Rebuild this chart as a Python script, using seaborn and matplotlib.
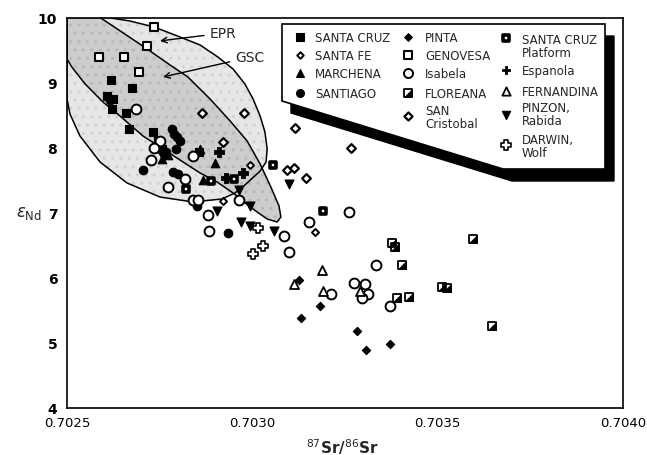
import matplotlib
matplotlib.use("Agg")
import matplotlib.pyplot as plt
from matplotlib.patches import Polygon
from matplotlib.ticker import MultipleLocator
import numpy as np
import pandas as pd
import seaborn as sns

# ---------------- data (87Sr/86Sr, epsilon Nd) ----------------
santa_cruz_sr = [0.702619, 0.702675, 0.702608, 0.702624, 0.702621, 0.702659, 0.702667, 0.702732, 0.702756, 0.702856, 0.702745]
santa_cruz_nd = [9.038, 8.915, 8.792, 8.746, 8.592, 8.531, 8.285, 8.238, 7.977, 7.931, 8.100]

santa_fe_sr = [0.702994, 0.703169, 0.702921]
santa_fe_nd = [7.731, 6.700, 7.177]

marchena_sr = [0.702756, 0.702772, 0.702859, 0.702899, 0.702867]
marchena_nd = [7.823, 7.885, 7.977, 7.762, 7.500]

santiago_sr = [0.702616, 0.702783, 0.702789, 0.702797, 0.702805, 0.702794, 0.702705, 0.702786, 0.702799, 0.702851, 0.702934, 0.702751, 0.702767]
santiago_nd = [8.731, 8.285, 8.208, 8.162, 8.100, 7.977, 7.654, 7.623, 7.592, 7.100, 6.685, 7.977, 7.931]

pinta_sr = [0.703126, 0.703183, 0.703131, 0.703282, 0.703307, 0.703371]
pinta_nd = [5.962, 5.562, 5.377, 5.177, 4.877, 4.977]

genovesa_sr = [0.702735, 0.702716, 0.702586, 0.702654, 0.702694]
genovesa_nd = [9.854, 9.562, 9.392, 9.392, 9.162]

isabela_sr = [0.702686, 0.702751, 0.702735, 0.702727, 0.702840, 0.702772, 0.702818, 0.702840, 0.702853, 0.702880,
              0.702883, 0.702964, 0.703085, 0.703099, 0.703153, 0.703261, 0.703334, 0.703274, 0.703304, 0.703312,
              0.703212, 0.703371, 0.703296]
isabela_nd = [8.592, 8.100, 7.992, 7.808, 7.869, 7.392, 7.515, 7.192, 7.192, 6.962,
              6.715, 7.192, 6.638, 6.392, 6.854, 7.008, 6.192, 5.915, 5.900, 5.746,
              5.746, 5.562, 5.692]

floreana_sr = [0.703377, 0.703385, 0.703404, 0.703390, 0.703423, 0.703512, 0.703525, 0.703595, 0.703647]
floreana_nd = [6.531, 6.469, 6.192, 5.685, 5.700, 5.854, 5.838, 6.592, 5.254]

san_cristobal_sr = [0.702864, 0.702977, 0.703115, 0.703266, 0.703094, 0.703112, 0.703145, 0.702921]
san_cristobal_nd = [8.531, 8.531, 8.300, 7.992, 7.654, 7.685, 7.531, 8.085]

platform_sr = [0.702821, 0.702888, 0.702951, 0.703056, 0.703191]
platform_nd = [7.362, 7.485, 7.515, 7.731, 7.023]

espanola_sr = [0.702910, 0.702975, 0.702929]
espanola_nd = [7.931, 7.608, 7.531]

fernandina_sr = [0.703188, 0.703112, 0.703191, 0.703290]
fernandina_nd = [6.115, 5.900, 5.785, 5.785]

pinzon_sr = [0.702759, 0.702964, 0.702905, 0.702969, 0.702994, 0.703058, 0.703099, 0.702994]
pinzon_nd = [7.854, 7.346, 7.023, 6.854, 6.792, 6.715, 7.438, 7.100]

darwin_sr = [0.703015, 0.703002, 0.703029]
darwin_nd = [6.762, 6.369, 6.477]

# field outlines
epr_sr = [0.7025, 0.70261, 0.70267, 0.702735, 0.702805, 0.702859, 0.702907, 0.702948, 0.70298, 0.703002,
          0.703021, 0.703034, 0.70304, 0.703037, 0.703021, 0.70298, 0.702953, 0.702918, 0.70284, 0.702751,
          0.702662, 0.702589, 0.702535, 0.702508, 0.7025]
epr_nd = [10.0, 10.0, 9.946, 9.854, 9.7, 9.577, 9.392, 9.208, 8.977, 8.746,
          8.485, 8.238, 7.977, 7.777, 7.638, 7.423, 7.3, 7.208, 7.162, 7.238,
          7.454, 7.777, 8.177, 8.515, 8.746]
gsc_sr = [0.7025, 0.702589, 0.702656, 0.702724, 0.702778, 0.702826, 0.702886, 0.70294, 0.702986, 0.703021,
          0.70305, 0.703072, 0.703077, 0.703067, 0.70304, 0.702994, 0.702948, 0.702905, 0.702859, 0.702813,
          0.702751, 0.702705, 0.702643, 0.702597, 0.702549, 0.702513, 0.7025]
gsc_nd = [10.0, 10.0, 9.746, 9.485, 9.269, 9.085, 8.746, 8.408, 8.1, 7.746,
          7.392, 7.1, 6.931, 6.854, 6.9, 7.085, 7.3, 7.469, 7.608, 7.777,
          8.008, 8.177, 8.485, 8.7, 8.977, 9.238, 9.362]

x_ticks = [0.7025, 0.7030, 0.7035, 0.7040]
x_tick_labels = ["0.7025", "0.7030", "0.7035", "0.7040"]
y_ticks = [4, 5, 6, 7, 8, 9, 10]

# label, sr, nd, marker, size, face, linewidth
groups = [
    ("SANTA CRUZ", santa_cruz_sr, santa_cruz_nd, "s", 32, "black", 0.8),
    ("SANTA FE", santa_fe_sr, santa_fe_nd, "D", 13, "white", 1.4),
    ("MARCHENA", marchena_sr, marchena_nd, "^", 38, "black", 0.8),
    ("SANTIAGO", santiago_sr, santiago_nd, "o", 38, "black", 0.8),
    ("PINTA", pinta_sr, pinta_nd, "D", 18, "black", 0.8),
    ("GENOVESA", genovesa_sr, genovesa_nd, "s", 40, "white", 1.5),
    ("Isabela", isabela_sr, isabela_nd, "o", 50, "white", 1.4),
    ("FLOREANA", floreana_sr, floreana_nd, "s", 36, "white", 1.3),
    ("SAN\nCristobal", san_cristobal_sr, san_cristobal_nd, "D", 20, "white", 1.6),
    ("SANTA CRUZ\nPlatform", platform_sr, platform_nd, "s", 24, "white", 2.6),
    ("Espanola", espanola_sr, espanola_nd, "P", 42, "black", 0.6),
    ("FERNANDINA", fernandina_sr, fernandina_nd, "^", 42, "white", 1.3),
    ("PINZON,\nRabida", pinzon_sr, pinzon_nd, "v", 42, "black", 0.8),
    ("DARWIN,\nWolf", darwin_sr, darwin_nd, "P", 50, "white", 1.2),
]

tri = [(-1, -1), (1, -1), (1, 1), (-1, -1)]

sns.set_theme(style="white")
plt.rcParams['font.family'] = ['DejaVu Sans']

fig = plt.figure(figsize=(6.47, 4.56), dpi=100)
ax = fig.add_axes([67 / 647, 1 - 408.5 / 456, 556 / 647, 390 / 456])

# fields
ax.fill(epr_sr, epr_nd, facecolor="#e6e6e6", edgecolor="none", zorder=0)
ax.fill(epr_sr, epr_nd, facecolor="none", edgecolor="#d2d2d2", hatch="..", linewidth=0, zorder=0.1)
ax.fill(gsc_sr, gsc_nd, facecolor="#cdcdcd", edgecolor="none", zorder=0.2)
ax.fill(gsc_sr, gsc_nd, facecolor="none", edgecolor="#b9b9b9", hatch="..", linewidth=0, zorder=0.3)
ax.plot(epr_sr + [epr_sr[0]], epr_nd + [epr_nd[0]], color="black", lw=1.1, zorder=0.4)
ax.plot(gsc_sr + [gsc_sr[0]], gsc_nd + [gsc_nd[0]], color="black", lw=1.1, zorder=0.5)

# points
for label, xs, ys, m, s, fc, lw in groups:
    d = pd.DataFrame({"sr": xs, "nd": ys})
    sns.scatterplot(data=d, x="sr", y="nd", marker=m, s=s, color=fc, edgecolor="black",
                    linewidth=lw, ax=ax, zorder=3, legend=False)
    if label == "FLOREANA":
        sns.scatterplot(data=d, x="sr", y="nd", marker=tri, s=s, color="black", edgecolor="black",
                        linewidth=0.5, ax=ax, zorder=3.1, legend=False)

# field labels
ax.annotate("EPR", xy=(0.702751, 9.64), xytext=(0.702886, 9.76), fontsize=10,
            ha="left", va="center", zorder=4,
            arrowprops=dict(arrowstyle="->", color="black", lw=1.0, shrinkA=2, shrinkB=0))
ax.annotate("GSC", xy=(0.702759, 9.085), xytext=(0.702955, 9.39), fontsize=10,
            ha="left", va="center", zorder=4,
            arrowprops=dict(arrowstyle="->", color="black", lw=1.0, shrinkA=2, shrinkB=0))

# axes
ax.set_xlim(0.7025, 0.7040)
ax.set_ylim(4, 10)
ax.set_xticks(x_ticks)
ax.set_xticklabels(x_tick_labels)
ax.set_yticks(y_ticks)
ax.xaxis.set_minor_locator(MultipleLocator(0.0001))
ax.yaxis.set_minor_locator(MultipleLocator(0.2))
ax.tick_params(which="both", direction="in", top=False, right=False, width=1.0, colors="black")
ax.tick_params(which="major", length=7)
ax.tick_params(which="minor", length=4)
ax.tick_params(axis="x", which="major", labelsize=9.5, pad=6)
ax.tick_params(axis="y", which="major", labelsize=10, pad=7)
for t in ax.get_yticklabels():
    t.set_fontweight("bold")
for sp in ax.spines.values():
    sp.set_color("black")
    sp.set_linewidth(1.2)

ax.set_xlabel(r"$^{87}$Sr/$^{86}$Sr", fontsize=11, fontweight="bold")
ax.xaxis.set_label_coords(0.496, -0.075)
ax.set_ylabel(r"$\varepsilon_{\mathrm{Nd}}$", fontsize=12, rotation=0, ha="center", va="center")
ax.yaxis.set_label_coords(-0.068, 0.5)

# legend box with shadow (axes fraction coords)
def fx(px):
    return (px - 67) / 556.0

def fy(py):
    return (408.5 - py) / 390.0

box = [(282, 25), (605, 25), (605, 170), (503, 170), (282, 102)]
shadow = [(x + 9, y + 12) for x, y in box]
ax.add_patch(Polygon([(fx(x), fy(y)) for x, y in shadow], closed=True, transform=ax.transAxes,
                     facecolor="black", edgecolor="black", zorder=5, clip_on=False))
ax.add_patch(Polygon([(fx(x), fy(y)) for x, y in box], closed=True, transform=ax.transAxes,
                     facecolor="white", edgecolor="black", lw=1.2, zorder=6, clip_on=False))

leg_pos = [
    (300, 38, 315, 38), (300, 56, 315, 56), (300, 74, 315, 74), (300, 94, 315, 94),
    (408, 38, 425, 38), (408, 56, 425, 56), (408, 74, 425, 74), (408, 94, 425, 94), (408, 117, 425, 118),
    (506, 39, 522, 47), (506, 71, 522, 72), (506, 92, 522, 92), (506, 116, 522, 115), (506, 146, 522, 147),
]
for (label, xs, ys, m, s, fc, lw), (mx, my, tx, ty) in zip(groups, leg_pos):
    ax.scatter([fx(mx)], [fy(my)], marker=m, s=s * 0.85, color=fc, edgecolor="black", linewidth=lw,
               transform=ax.transAxes, zorder=7, clip_on=False)
    if label == "FLOREANA":
        ax.scatter([fx(mx)], [fy(my)], marker=tri, s=s * 0.85, color="black", edgecolor="black",
                   linewidth=0.5, transform=ax.transAxes, zorder=7.1, clip_on=False)
    ax.text(fx(tx), fy(ty), label, transform=ax.transAxes, fontsize=8.5, ha="left", va="center",
            linespacing=1.0, zorder=8)

fig.savefig("out.png", dpi=100)
